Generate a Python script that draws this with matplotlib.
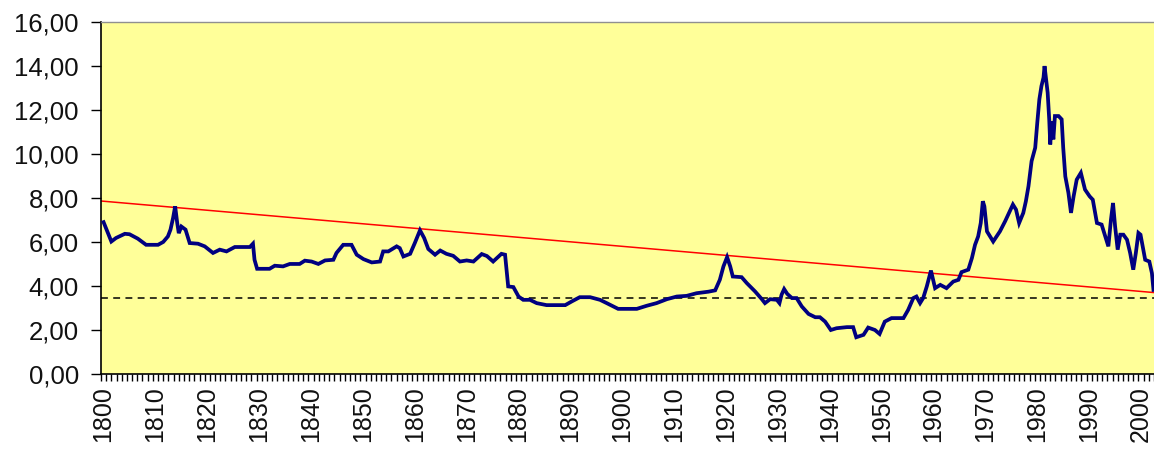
import matplotlib
matplotlib.use("Agg")
import matplotlib.pyplot as plt
from matplotlib.ticker import FixedLocator, FuncFormatter

plt.rcParams['font.family'] = ['Liberation Sans', 'DejaVu Sans']

# --- data ---
years = [1800.0, 1801.5, 1802.4, 1804.1, 1805.0, 1806.6, 1808.2, 1810.5, 1811.5, 1812.4,
         1812.9, 1813.4, 1813.8, 1814.2, 1814.5, 1815.0, 1815.8, 1816.6, 1818.2, 1819.5,
         1821.1, 1822.4, 1823.7, 1825.3, 1828.2, 1828.8, 1829.1, 1829.6, 1832.0, 1833.0,
         1834.6, 1835.9, 1837.8, 1838.8, 1840.1, 1841.4, 1842.7, 1844.3, 1844.9, 1846.2,
         1847.8, 1848.8, 1850.1, 1851.7, 1853.3, 1853.9, 1854.9, 1856.5, 1857.1, 1857.8,
         1859.1, 1860.0, 1861.0, 1861.8, 1862.6, 1863.9, 1864.9, 1866.1, 1867.4, 1868.7,
         1870.0, 1871.3, 1872.9, 1873.9, 1875.1, 1876.7, 1877.4, 1877.7, 1878.0, 1879.0,
         1880.0, 1880.9, 1882.2, 1883.5, 1885.4, 1889.0, 1890.2, 1891.8, 1893.8, 1895.7,
         1897.0, 1899.2, 1902.8, 1904.7, 1906.6, 1908.6, 1910.5, 1912.4, 1914.3, 1916.6,
         1917.9, 1918.8, 1919.5, 1920.2, 1920.8, 1921.3, 1923.0, 1924.0, 1925.6, 1926.9,
         1927.5, 1928.5, 1929.8, 1930.3, 1930.7, 1931.2, 1931.8, 1932.7, 1933.6, 1934.6,
         1935.9, 1937.2, 1938.1, 1939.1, 1940.2, 1941.3, 1943.3, 1944.5, 1945.1, 1946.5,
         1947.4, 1948.7, 1949.6, 1950.6, 1951.9, 1954.2, 1955.1, 1956.1, 1956.7, 1957.4,
         1958.0, 1958.7, 1959.5, 1960.0, 1960.3, 1961.3, 1962.5, 1963.8, 1964.8, 1965.4,
         1966.7, 1967.4, 1968.0, 1968.6, 1969.1, 1969.5, 1969.8, 1970.3, 1971.5, 1972.8,
         1973.8, 1975.3, 1975.9, 1976.5, 1977.3, 1977.8, 1978.3, 1978.9, 1979.6, 1980.0,
         1980.4, 1980.8, 1981.2, 1981.4, 1981.7, 1982.0, 1982.3, 1982.5, 1982.8, 1983.1,
         1983.4, 1984.1, 1984.7, 1985.0, 1985.4, 1986.0, 1986.5, 1987.0, 1987.6, 1988.4,
         1989.2, 1990.1, 1990.7, 1991.5, 1992.4, 1993.1, 1993.7, 1994.2, 1994.6, 1995.0,
         1995.5, 1996.0, 1996.6, 1997.3, 1997.9, 1998.5, 1999.0, 1999.5, 1999.9, 2000.8,
         2001.6, 2002.1, 2002.4]
yields = [6.90, 6.02, 6.18, 6.37, 6.35, 6.15, 5.87, 5.87, 6.00, 6.25,
          6.56, 7.09, 7.62, 6.86, 6.40, 6.70, 6.56, 5.95, 5.92, 5.80,
          5.50, 5.65, 5.57, 5.77, 5.77, 5.92, 5.19, 4.78, 4.78, 4.92,
          4.89, 5.00, 5.00, 5.15, 5.11, 5.00, 5.16, 5.19, 5.50, 5.87,
          5.87, 5.42, 5.22, 5.07, 5.11, 5.57, 5.57, 5.80, 5.72, 5.34,
          5.46, 5.95, 6.53, 6.18, 5.68, 5.42, 5.61, 5.46, 5.37, 5.11,
          5.16, 5.11, 5.45, 5.36, 5.11, 5.46, 5.42, 4.70, 3.98, 3.95,
          3.52, 3.37, 3.37, 3.22, 3.13, 3.13, 3.29, 3.49, 3.49, 3.37,
          3.22, 2.96, 2.96, 3.10, 3.22, 3.40, 3.52, 3.55, 3.67, 3.74,
          3.80, 4.28, 4.89, 5.31, 4.89, 4.43, 4.40, 4.13, 3.75, 3.40,
          3.22, 3.40, 3.37, 3.22, 3.60, 3.86, 3.64, 3.45, 3.45, 3.07,
          2.73, 2.58, 2.58, 2.38, 2.00, 2.08, 2.13, 2.13, 1.67, 1.78,
          2.11, 2.00, 1.82, 2.38, 2.54, 2.54, 2.91, 3.45, 3.52, 3.22,
          3.45, 3.98, 4.70, 4.20, 3.90, 4.05, 3.90, 4.20, 4.28, 4.63,
          4.74, 5.27, 5.87, 6.25, 6.86, 7.85, 7.62, 6.48, 6.02, 6.48,
          6.94, 7.70, 7.47, 6.86, 7.32, 7.85, 8.53, 9.67, 10.28, 11.42,
          12.48, 13.08, 13.47, 13.99, 13.39, 12.78, 11.57, 10.43, 11.49, 10.66,
          11.72, 11.72, 11.57, 10.28, 8.98, 8.23, 7.32, 8.07, 8.83, 9.14,
          8.38, 8.07, 7.92, 6.86, 6.79, 6.25, 5.80, 7.01, 7.77, 6.71,
          5.65, 6.33, 6.33, 6.10, 5.50, 4.74, 5.50, 6.41, 6.33, 5.19,
          5.11, 4.58, 3.82]

trend_years = [1799.5, 2002.5]
trend_values = [7.86, 3.70]
mean_value = 3.45

x_labels = list(range(1800, 2001, 10))
y_ticks = [0, 2, 4, 6, 8, 10, 12, 14, 16]

# --- figure ---
fig = plt.figure(figsize=(11.54, 4.55), dpi=100)
ax = fig.add_axes([0.0875, 0.178, 0.9125, 0.774])
ax.set_facecolor('#FFFF99')

ax.plot(years, yields, color='#000080', lw=2.7, solid_joinstyle='miter', zorder=3)
ax.plot(trend_years, trend_values, color='#FF0000', lw=1.1, zorder=2)
ax.axhline(mean_value, color='black', lw=1.1, linestyle=(0, (4.5, 3.5)), zorder=2)

ax.set_xlim(1799.5, 2002.5)
ax.set_ylim(0, 16)

ax.xaxis.set_major_locator(FixedLocator(x_labels))
ax.xaxis.set_minor_locator(FixedLocator([y + 0.5 for y in range(1799, 2003)]))
ax.tick_params(axis='x', which='major', length=0, pad=9, labelsize=18,
               labelrotation=90, labelcolor='#111111')
ax.tick_params(axis='x', which='minor', length=5, width=1, direction='out', color='black')

ax.set_yticks(y_ticks)
ax.yaxis.set_major_formatter(FuncFormatter(lambda v, p: f"{v:.2f}".replace('.', ',')))
ax.tick_params(axis='y', which='major', length=7, width=1, direction='out',
               pad=9, labelsize=18.5, color='black', labelcolor='#111111')

for s in ['left', 'bottom']:
    ax.spines[s].set_color('black')
    ax.spines[s].set_linewidth(1.2)
ax.spines['top'].set_color('#909090')
ax.spines['top'].set_linewidth(1)
ax.spines['right'].set_visible(False)

fig.savefig('out.png', dpi=100, facecolor='white')
